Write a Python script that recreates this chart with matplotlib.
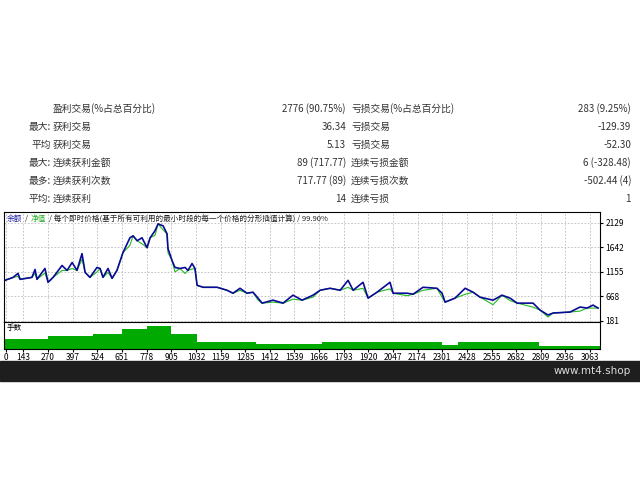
import matplotlib
matplotlib.use("Agg")
import matplotlib.pyplot as plt
import numpy as np

plt.rcParams['font.family'] = ['Noto Sans CJK SC', 'DejaVu Sans']

# summary table
row_prefix = ["", "最大:", "平均", "最大:", "最多:", "平均:"]
left_labels = ["盈利交易(%占总百分比)", "获利交易", "获利交易", "连续获利金额", "连续获利次数", "连续获利"]
left_values = ["2776 (90.75%)", "36.34", "5.13", "89 (717.77)", "717.77 (89)", "14"]
right_labels = ["亏损交易(%占总百分比)", "亏损交易", "亏损交易", "连续亏损金额", "连续亏损次数", "连续亏损"]
right_values = ["283 (9.25%)", "-129.39", "-52.30", "6 (-328.48)", "-502.44 (4)", "1"]

# balance curve (trade number, balance)
trades = [48, 90, 115, 126, 187, 203, 213, 254, 270, 296, 342, 368, 394, 419, 445, 461,
          486, 522, 538, 553, 579, 600, 625, 656, 692, 708, 729, 754, 780, 796, 821, 837,
          863, 883, 888, 909, 924, 950, 976, 991, 1012, 1027, 1038, 1069, 1141, 1192, 1223,
          1259, 1295, 1326, 1352, 1373, 1429, 1481, 1532, 1579, 1635, 1672, 1723, 1775,
          1816, 1842, 1893, 1919, 1965, 2032, 2048, 2120, 2151, 2202, 2274, 2300, 2316,
          2367, 2419, 2460, 2496, 2563, 2609, 2651, 2687, 2769, 2805, 2846, 2872, 2960,
          3011, 3047, 3078, 3104]
balance = [988, 1047, 1126, 1008, 1047, 1204, 1008, 1224, 949, 1047, 1283, 1185, 1342, 1185,
           1519, 1145, 1047, 1244, 1224, 1047, 1224, 1027, 1185, 1539, 1834, 1873, 1775, 1834,
           1637, 1834, 1972, 2110, 2070, 1913, 1618, 1381, 1244, 1224, 1244, 1185, 1322, 1224,
           889, 850, 850, 791, 732, 830, 732, 752, 634, 535, 594, 535, 693, 594, 693, 791,
           830, 791, 988, 791, 949, 634, 752, 949, 732, 732, 712, 850, 830, 732, 555, 634,
           830, 752, 653, 594, 693, 634, 535, 535, 397, 299, 338, 358, 457, 437, 496, 437]
# equity drawdown below balance at each point
equity_dip = [0, 0, 60, 0, 0, 80, 0, 90, 0, 0, 100, 0, 120, 0, 110, 0, 0, 90, 0, 0,
              80, 0, 0, 0, 150, 0, 0, 120, 0, 0, 90, 0, 80, 0, 80, 0, 90, 0, 120, 0,
              110, 0, 0, 0, 0, 0, 0, 40, 0, 0, 40, 0, 40, 0, 80, 0, 40, 0, 0, 0,
              140, 0, 120, 0, 0, 130, 0, 50, 0, 60, 0, 80, 0, 0, 120, 0, 0, 90, 0,
              50, 0, 80, 0, 40, 0, 0, 80, 0, 60, 0]

# lot size steps (start trade, lots)
vol_start = [48, 270, 500, 651, 780, 905, 1038, 1340, 1680, 2300, 2380, 2800, 3114]
vol_lots = [1.0, 1.25, 1.4, 1.9, 2.2, 1.4, 0.7, 0.5, 0.7, 0.4, 0.7, 0.3, 0.3]

xticks = [270, 397, 524, 651, 778, 905, 1032, 1159, 1285, 1412, 1539, 1666, 1793, 1920,
          2047, 2174, 2301, 2428, 2555, 2682, 2809, 2936, 3063]
yticks = [181, 668, 1155, 1642, 2129]

fig = plt.figure(figsize=(6.4, 4.8), dpi=100)
fs = 7
tc = "#333333"

# table
for i in range(6):
    y = 1 - (109 + 18 * i) / 480
    fig.text(51 / 640, y, row_prefix[i], ha="right", va="center", fontsize=fs, color=tc)
    fig.text(53 / 640, y, left_labels[i], ha="left", va="center", fontsize=fs, color=tc)
    fig.text(346 / 640, y, left_values[i], ha="right", va="center", fontsize=fs, color=tc)
    fig.text(351 / 640, y, right_labels[i], ha="left", va="center", fontsize=fs, color=tc)
    fig.text(631 / 640, y, right_values[i], ha="right", va="center", fontsize=fs, color=tc)

ax = fig.add_axes([4 / 640, 1 - 322 / 480, 596 / 640, 110 / 480])
ax2 = fig.add_axes([4 / 640, 1 - 349 / 480, 596 / 640, 27 / 480], sharex=ax)

equity = np.array(balance) - np.array(equity_dip)
ax.plot(trades, equity, color="#22bb22", lw=0.8)
ax.plot(trades, balance, color="#0a0a96", lw=1.2)
ax.set_xlim(43, 3114)
ax.set_ylim(160, 2346)
ax.set_yticks(yticks)
ax.yaxis.tick_right()
ax.tick_params(axis="y", labelsize=6, length=2, pad=2)
ax.tick_params(axis="x", length=0, labelbottom=False)
ax.set_xticks(xticks)
ax.grid(True, ls=(0, (2, 2)), color="#bbbbbb", lw=0.6)
for s in ax.spines.values():
    s.set_linewidth(0.8)
ax.text(0.005, 0.97, "余额", color="#1c1ca0", fontsize=5.5, transform=ax.transAxes, va="top")
ax.text(0.035, 0.97, "/", color="#222", fontsize=5.5, transform=ax.transAxes, va="top")
ax.text(0.045, 0.97, "净值", color="#22aa22", fontsize=5.5, transform=ax.transAxes, va="top")
ax.text(0.075, 0.97, "/ 每个即时价格(基于所有可利用的最小时段的每一个价格的分形插值计算) / 99.90%",
        color="#222", fontsize=5.5, transform=ax.transAxes, va="top")

ax2.fill_between(vol_start, vol_lots, step="post", color="#00aa00", lw=0)
ax2.set_ylim(0, 2.6)
ax2.set_yticks([])
ax2.set_xticks([53, 143] + xticks)
ax2.set_xticklabels(["0", "143"] + [str(t) for t in xticks])
ax2.tick_params(axis="x", labelsize=6, length=2, pad=1)
ax2.text(0.005, 0.92, "手数", fontsize=5.5, transform=ax2.transAxes, va="top")
for s in ax2.spines.values():
    s.set_linewidth(0.8)

# bottom bar
fig.patches.append(plt.Rectangle((0, 1 - 381 / 480), 1, 20 / 480, transform=fig.transFigure,
                                 color="#1e1e1e", zorder=0))
fig.text(631 / 640, 1 - 371 / 480, "www.mt4.shop", ha="right", va="center", fontsize=7.5,
         color="#dddddd", family="DejaVu Sans")

fig.savefig("out.png", dpi=100)
